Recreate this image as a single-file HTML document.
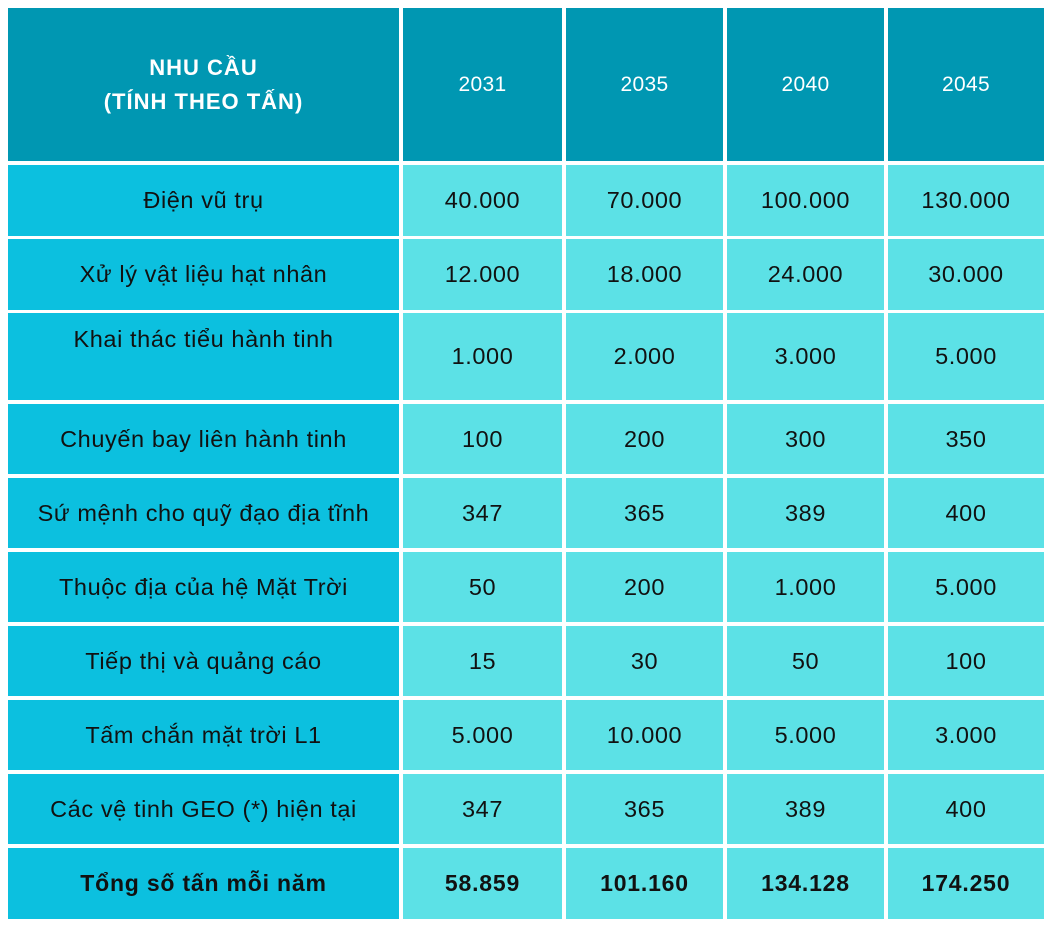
<!DOCTYPE html>
<html><head><meta charset="utf-8"><style>
body{margin:0;width:1053px;height:927px;background:#fff;position:relative;overflow:hidden;font-family:"Liberation Sans","DejaVu Sans",sans-serif;}
.c{position:absolute;display:flex;align-items:center;justify-content:center;text-align:center;font-size:23.5px;letter-spacing:0.6px;color:#111;box-sizing:border-box;}
.h{background:#0097b2;color:#fff;font-size:21px;letter-spacing:0.3px;}
.f{background:#0cc0df;}
.d{background:#5ce1e6;}
.b{font-weight:bold;font-size:23px;letter-spacing:0.8px;}
</style></head><body>
<div id="t"></div>
<script>
var cols=[[8,399],[403,562],[566,723],[727,884],[888,1044]];
var rows=[[8,161],[165,236],[239,310],[313,400],[404,474],[478,548],[552,622],[626,696],[700,770],[774,844],[848,919]];
var data=[
["NHU CẦU<br>(TÍNH THEO TẤN)","2031","2035","2040","2045"],
["Điện vũ trụ","40.000","70.000","100.000","130.000"],
["Xử lý vật liệu hạt nhân","12.000","18.000","24.000","30.000"],
["Khai thác tiểu hành tinh","1.000","2.000","3.000","5.000"],
["Chuyến bay liên hành tinh","100","200","300","350"],
["Sứ mệnh cho quỹ đạo địa tĩnh","347","365","389","400"],
["Thuộc địa của hệ Mặt Trời","50","200","1.000","5.000"],
["Tiếp thị và quảng cáo","15","30","50","100"],
["Tấm chắn mặt trời L1","5.000","10.000","5.000","3.000"],
["Các vệ tinh GEO (*) hiện tại","347","365","389","400"],
["Tổng số tấn mỗi năm","58.859","101.160","134.128","174.250"]];
var h="";
for(var r=0;r<rows.length;r++)for(var c=0;c<5;c++){
var cl=r==0?"h":(c==0?"f":"d");if(r==10)cl+=" b";
var st="left:"+cols[c][0]+"px;top:"+rows[r][0]+"px;width:"+(cols[c][1]-cols[c][0])+"px;height:"+(rows[r][1]-rows[r][0])+"px;";
if(r==3&&c==0)st+="align-items:flex-start;padding-top:13px;";
if(r==0&&c==0)st+="line-height:34px;font-weight:bold;font-size:22px;letter-spacing:1px;";
h+='<div class="c '+cl+'" style="'+st+'">'+data[r][c]+'</div>';}
document.getElementById("t").innerHTML=h;
</script>
</body></html>
